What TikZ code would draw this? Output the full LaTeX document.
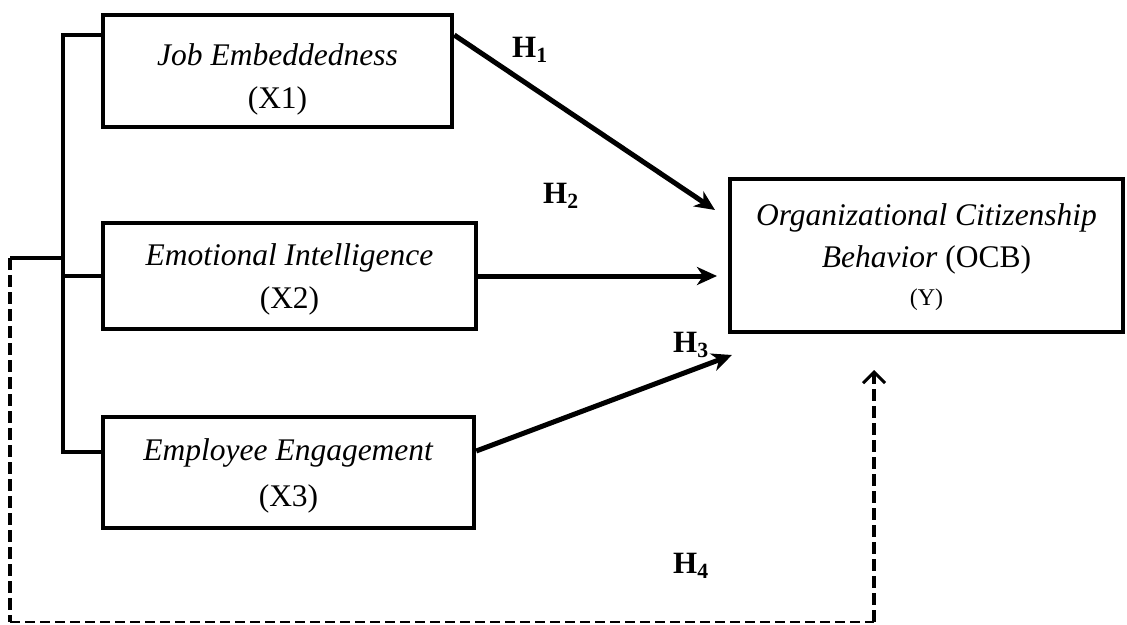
\documentclass[tikz,border=0pt]{standalone}
\usepackage{fontspec}
\setmainfont{Liberation Serif}
\usetikzlibrary{arrows.meta}
\begin{document}
\begin{tikzpicture}[x=1pt,y=-1pt,
  box/.style={draw, line width=4.5pt, inner sep=0pt, rectangle},
  txt/.style={anchor=base, inner sep=0pt, font=\fontsize{31.5}{38}\selectfont},
  smalltxt/.style={anchor=base, inner sep=0pt, font=\fontsize{24}{28}\selectfont},
  hlab/.style={anchor=base west, inner sep=0pt, font=\fontsize{31}{34}\selectfont\bfseries},
  arr/.style={line width=5pt, -{Stealth[length=20pt,width=18pt,inset=6pt]}},
  brk/.style={line width=4.5pt},
  dashv/.style={line width=3.5pt, dash pattern=on 12pt off 5pt},
  dashh/.style={line width=2pt, dash pattern=on 10pt off 5pt}]
\useasboundingbox (0,0) rectangle (1127,624);

% boxes
\node[box, minimum width=349pt, minimum height=112pt] (b1) at (277.5,71) {};
\node[box, minimum width=373pt, minimum height=106pt] (b2) at (289.5,276) {};
\node[box, minimum width=371pt, minimum height=111pt] (b3) at (288.5,472.5) {};
\node[box, minimum width=393pt, minimum height=153pt] (by) at (926.5,255.5) {};

% texts
\node[txt] (t1a) at (277.5,65) {\textit{Job Embeddedness}};
\node[txt] (t1b) at (277.5,108) {(X1)};
\node[txt] (t2a) at (289.5,265) {\textit{Emotional Intelligence}};
\node[txt] (t2b) at (289.5,308) {(X2)};
\node[txt] (t3a) at (288.5,460) {\textit{Employee Engagement}};
\node[txt] (t3b) at (288.5,506) {(X3)};
\node[txt] (tya) at (926.5,225) {\textit{Organizational Citizenship}};
\node[txt] (tyb) at (926.5,267) {\textit{Behavior} (OCB)};
\node[smalltxt] (tyc) at (926.5,305) {(Y)};

% bracket
\coordinate (bt) at (63,35);
\coordinate (bm) at (63,276);
\coordinate (bb) at (63,452);
\draw[brk] (b1.west |- bt) -- (bt) -- (bb) -- (b3.west |- bb);
\draw[brk] (bm) -- (b2.west);

% dashed moderation path
\coordinate (ds) at (63,258);
\coordinate (dl) at (10,258);
\coordinate (dbl) at (10,621.5);
\coordinate (dbr) at (874,621.5);
\coordinate (dtip) at (874,370);
\draw[line width=4pt] (ds) -- (dl);
\draw[dashv] (dl) -- (dbl);
\draw[dashh] (dbl) -- (dbr);
\draw[dashv, -{Straight Barb[length=11pt,width=22pt,line width=3pt]}] (dbr) -- (dtip);

% arrows
\coordinate (e1) at (715,210);
\coordinate (e2) at (717,276);
\coordinate (e3) at (732,355);
\coordinate (s3) at (0,451);
\draw[arr] (b1.east |- bt) -- (e1);
\draw[arr] (b2.east) -- (e2);
\draw[arr] (b3.east |- s3) -- (e3);

% labels
\node[hlab] (h1) at (512,57) {H\textsubscript{1}};
\node[hlab] (h2) at (543,203) {H\textsubscript{2}};
\node[hlab] (h3) at (673,352) {H\textsubscript{3}};
\node[hlab] (h4) at (673,573) {H\textsubscript{4}};
\end{tikzpicture}
\end{document}
